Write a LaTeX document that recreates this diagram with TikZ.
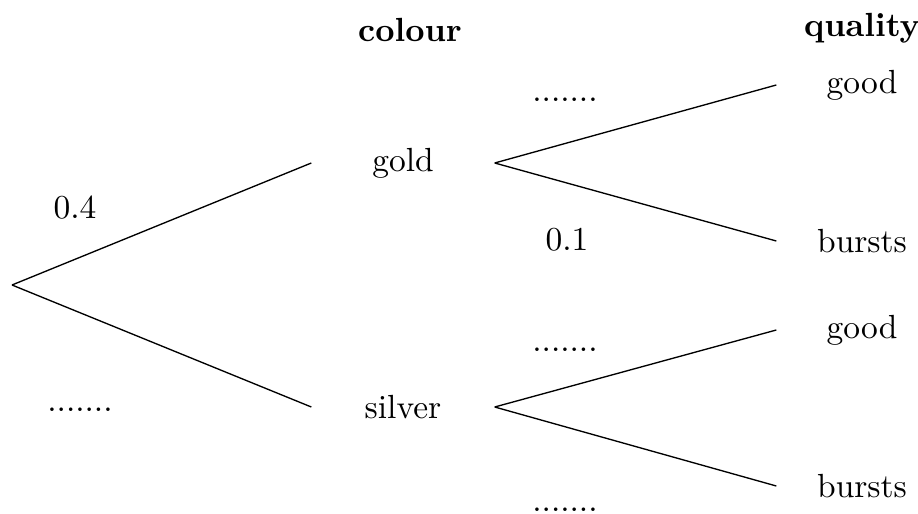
\documentclass[tikz,border=0pt]{standalone}
\usepackage{amsmath}
\usepackage{tikz}
\usetikzlibrary{calc}

\tikzset{
  branch/.style={minimum width=1.911cm,inner sep=0pt},
  leaf/.style={minimum width=1.785cm,inner sep=0pt},
  head/.style={font=\bfseries},
}

\begin{document}
\begin{tikzpicture}[x=0.0105cm,y=-0.0105cm]
\useasboundingbox (0,0) rectangle (918,514);

% titoli
\node[head] at (410,30) (hcol) {colour};
\node[head] at (862,28) (hqua) {quality};

% nodi
\coordinate (root) at (12,285);
\node[branch] at (403,163) (gold) {gold};
\node[branch] at (403,407) (silver) {silver};
\node[leaf] at (862,85) (ggood) {good};
\node[leaf] at (862,241) (gbursts) {bursts};
\node[leaf] at (862,330) (sgood) {good};
\node[leaf] at (862,486) (sbursts) {bursts};

\draw (root)--(gold.west);
\draw (root)--(silver.west);
\draw (gold.east)--(ggood.west);
\draw (gold.east)--(gbursts.west);
\draw (silver.east)--(sgood.west);
\draw (silver.east)--(sbursts.west);

% probabilita
\node at (75,208) (p1) {0.4};
\node at (80,410) (p2) {.......};
\node at (565,100) (p3) {.......};
\node at (567,240) (p4) {0.1};
\node at (565,350) (p5) {.......};
\node at (565,510) (p6) {.......};
\end{tikzpicture}
\end{document}
